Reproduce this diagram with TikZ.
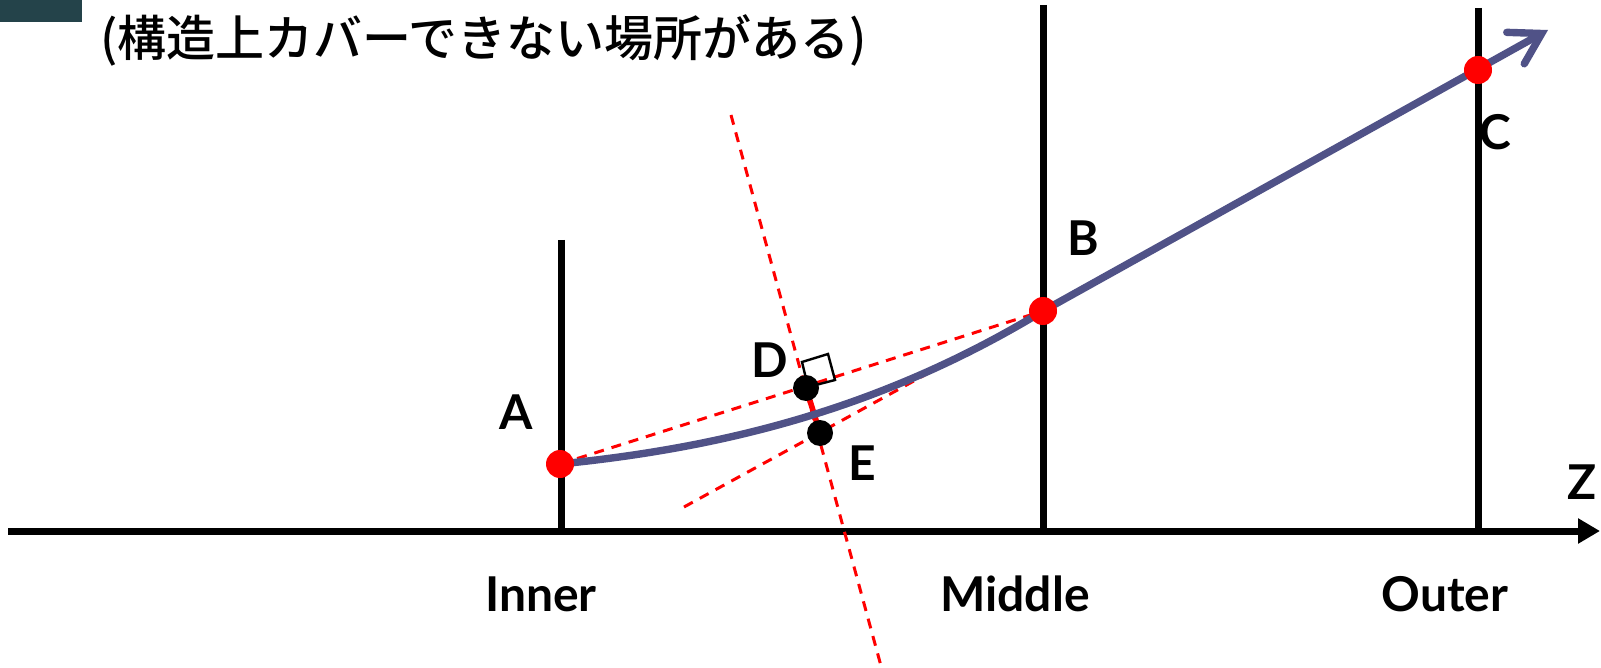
\documentclass[tikz,border=0pt]{standalone}
\usepackage{fontspec}
\setmainfont{Lato}
\newfontfamily\jpfont{Noto Sans CJK JP Medium}
\usetikzlibrary{arrows.meta}
\definecolor{curveblue}{RGB}{80,82,135}
\definecolor{boxteal}{RGB}{36,67,74}
\begin{document}
\begin{tikzpicture}[x=0.5pt,y=-0.5pt,
  poleline/.style={line width=3.5pt},
  dashred/.style={red, line width=1.5pt, dash pattern=on 5pt off 4pt},
  trackline/.style={color=curveblue, line width=3.7pt, line cap=round, line join=round},
  reddot/.style={circle, fill=red, inner sep=0pt, minimum size=14pt},
  blackdot/.style={circle, fill=black, inner sep=0pt, minimum size=13pt},
  lab/.style={font=\fontsize{24pt}{28pt}\selectfont\bfseries, inner sep=0pt}]
\useasboundingbox (0,0) rectangle (1601,668);
% corner box
\fill[boxteal] (0,0) rectangle (82,22);
% title
\node[anchor=west, inner sep=0pt] (title) at (100,40)
  {\jpfont\fontsize{24.5pt}{28pt}\selectfont (構造上カバーできない場所がある)};
% coordinates
\coordinate (innerTop) at (561,240);
\coordinate (innerBot) at (561,533);
\coordinate (midTop) at (1043,5);
\coordinate (midBot) at (1043,533);
\coordinate (outTop) at (1478,8);
\coordinate (outBot) at (1478,533);
\coordinate (axL) at (8,531);
\coordinate (axR) at (1600,531);
\coordinate (perpT) at (731,115);
\coordinate (perpB) at (881,666);
\coordinate (tanL) at (684,507);
\coordinate (tanR) at (1120,268);
\coordinate (tip) at (1548,30);
% poles and axis
\draw[poleline] (innerTop) -- (innerBot);
\draw[poleline] (midTop) -- (midBot);
\draw[poleline] (outTop) -- (outBot);
\draw[poleline, -{Triangle[length=11pt,width=12pt]}] (axL) -- (axR);
% point positions
\path (560,464) coordinate (pA) (1043,311) coordinate (pB) (1478,70) coordinate (pC)
      (806,388) coordinate (pD) (820,433) coordinate (pE);
% dashed construction lines
\draw[dashred] (perpT) -- (perpB);
\draw[dashred] (pA) -- (pB);
\draw[dashred] (tanL) -- (tanR);
% red segment D-E
\draw[red, line width=2.8pt] (pD) -- (pE);
% track
\draw[trackline, -{Straight Barb[length=15pt,width=18pt,line cap=round]}]
  (pA) .. controls (720,448) and (880,410) .. (pB) -- (tip);
% right-angle mark
\draw[line width=1.2pt] (808,387) -- (835,380) -- (828,354) -- (802,362) -- cycle;
% dots
\node[reddot] (A) at (pA) {};
\node[reddot] (B) at (pB) {};
\node[reddot] (C) at (pC) {};
\node[blackdot] (D) at (pD) {};
\node[blackdot] (E) at (pE) {};
% labels
\node[lab] (labA) at (516,412) {A};
\node[lab] (labB) at (1083,238) {B};
\node[lab] (labC) at (1495,132) {C};
\node[lab] (labD) at (770,360) {D};
\node[lab] (labE) at (862,463) {E};
\node[lab] (labZ) at (1582,482) {Z};
\node[lab] (inner) at (541,594) {Inner};
\node[lab] (middle) at (1015,594) {Middle};
\node[lab] (outer) at (1445,594) {Outer};
\end{tikzpicture}
\end{document}
